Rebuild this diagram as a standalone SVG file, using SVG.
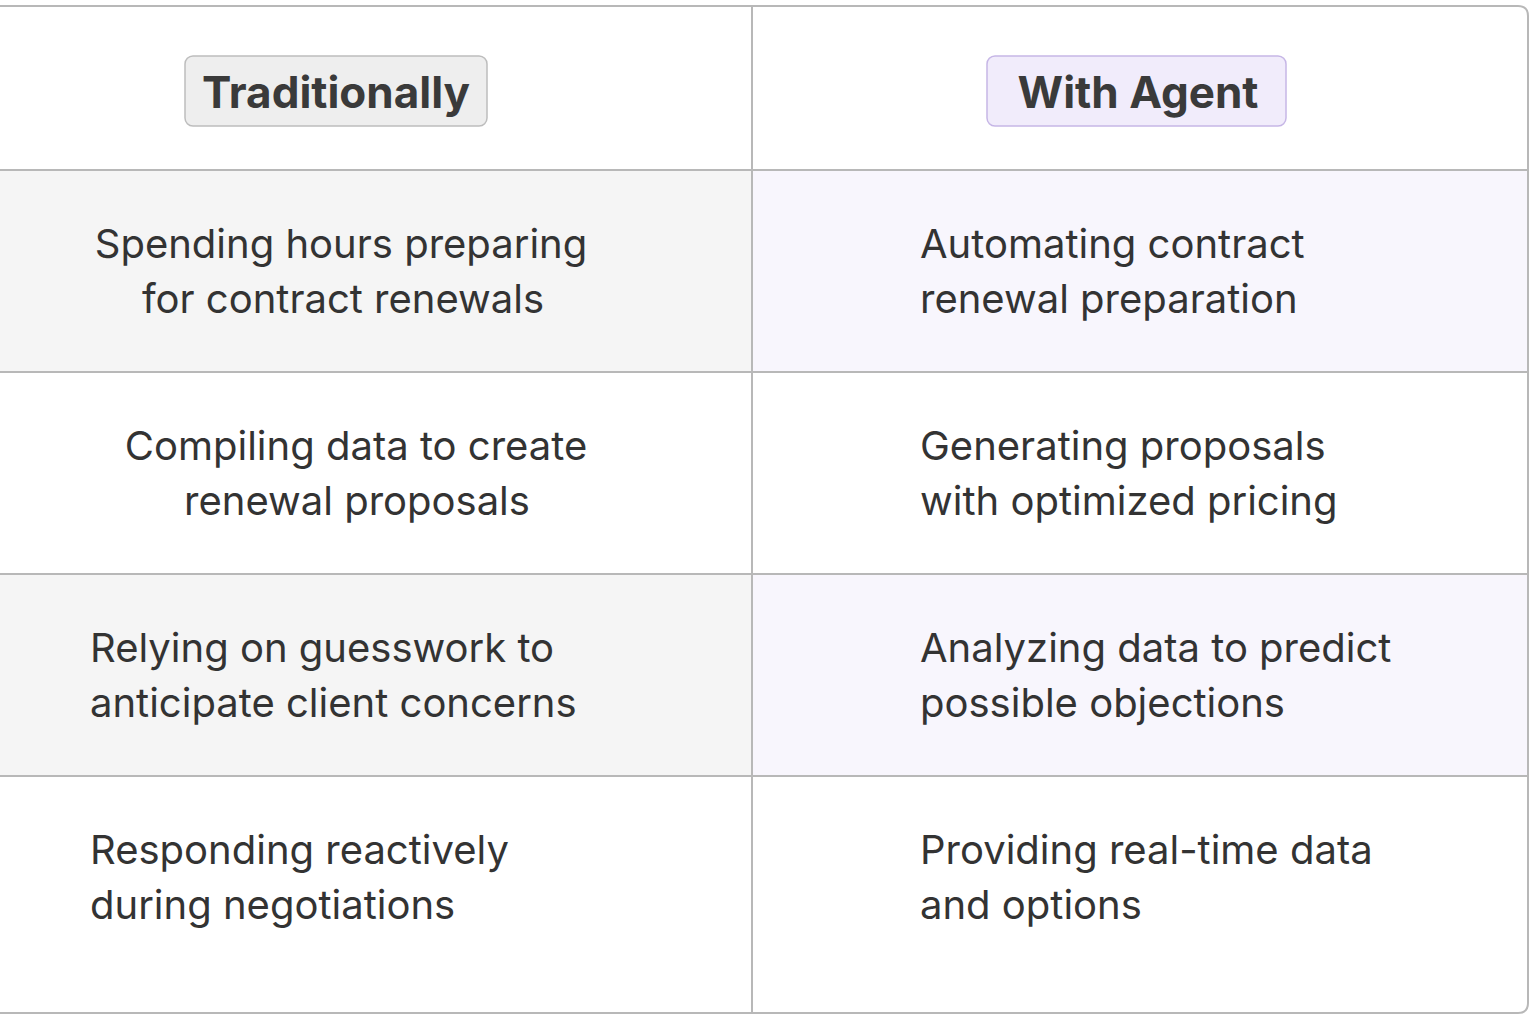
<svg xmlns="http://www.w3.org/2000/svg" width="1536" height="1024" viewBox="0 0 1536 1024">
<style>
.t{font-family:Inter,"Noto Sans",sans-serif;font-size:40px;fill:#333}
.h{font-family:Inter,"Noto Sans",sans-serif;font-size:44px;font-weight:700;fill:#3a3a3a;text-anchor:middle}
.ln{stroke:#b8b8b8;stroke-width:2}
</style>
<rect width="1536" height="1024" fill="#fff"/>
<g id="rows">
<rect x="0" y="170" width="752" height="202" fill="#f5f5f5"/>
<rect x="752" y="170" width="776" height="202" fill="#f8f6fd"/>
<rect x="0" y="574" width="752" height="202" fill="#f5f5f5"/>
<rect x="752" y="574" width="776" height="202" fill="#f8f6fd"/>
</g>
<g id="grid">
<path d="M0 6 H1518 Q1528 6 1528 16 V1003 Q1528 1013 1518 1013 H0" fill="none" class="ln"/>
<line x1="752" y1="6" x2="752" y2="1013" class="ln"/>
<line x1="0" y1="170" x2="1528" y2="170" class="ln"/>
<line x1="0" y1="372" x2="1528" y2="372" class="ln"/>
<line x1="0" y1="574" x2="1528" y2="574" class="ln"/>
<line x1="0" y1="776" x2="1528" y2="776" class="ln"/>
</g>
<g id="head-left"><rect x="185" y="56" width="302" height="70" rx="8" fill="#eeeeee" stroke="#bdbdbd" stroke-width="1.5"/><text class="h" x="336" y="108">Traditionally</text></g>
<g id="head-right"><rect x="987" y="56" width="299" height="70" rx="8" fill="#f1ecfb" stroke="#c6b6e6" stroke-width="1.5"/><text class="h" x="1138" y="108">With Agent</text></g>
<g id="r1l"><text class="t" text-anchor="middle" x="341" y="258">Spending hours preparing</text><text class="t" text-anchor="middle" x="343" y="313">for contract renewals</text></g>
<g id="r1r"><text class="t" x="920" y="258">Automating contract</text><text class="t" x="920" y="313">renewal preparation</text></g>
<g id="r2l"><text class="t" text-anchor="middle" x="356" y="460">Compiling data to create</text><text class="t" text-anchor="middle" x="357" y="515">renewal proposals</text></g>
<g id="r2r"><text class="t" x="920" y="460">Generating proposals</text><text class="t" x="920" y="515">with optimized pricing</text></g>
<g id="r3l"><text class="t" x="90" y="662">Relying on guesswork to</text><text class="t" x="90" y="717">anticipate client concerns</text></g>
<g id="r3r"><text class="t" x="920" y="662">Analyzing data to predict</text><text class="t" x="920" y="717">possible objections</text></g>
<g id="r4l"><text class="t" x="90" y="864">Responding reactively</text><text class="t" x="90" y="919">during negotiations</text></g>
<g id="r4r"><text class="t" x="920" y="864">Providing real-time data</text><text class="t" x="920" y="919">and options</text></g>
</svg>
